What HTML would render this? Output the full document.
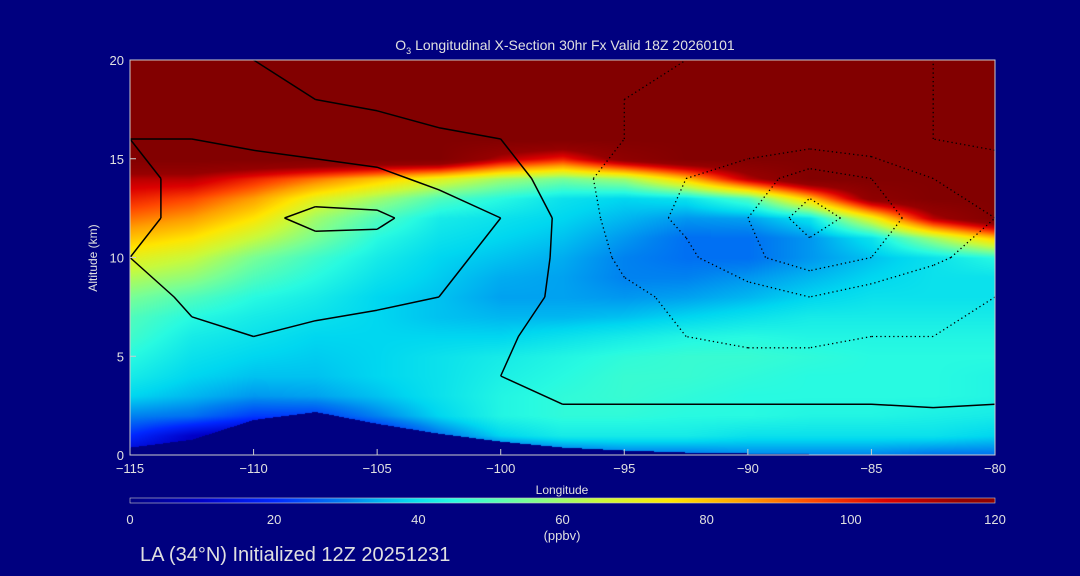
<!DOCTYPE html>
<html><head><meta charset="utf-8">
<style>
body{margin:0;background:#00007f;width:1080px;height:576px;overflow:hidden;position:relative;font-family:"Liberation Sans",sans-serif;color:#ddd}
#field{position:absolute;left:130px;top:60px}
#ov{position:absolute;left:0;top:0}
text{fill:#e0e0e0;font-family:"Liberation Sans",sans-serif}
</style></head><body>
<canvas id="field" width="865" height="395"></canvas>
<svg id="ov" width="1080" height="576"></svg>
<script>
const lons=[-115,-112.5,-110,-107.5,-105,-102.5,-100,-97.5,-95,-92.5,-90,-87.5,-85,-82.5,-80];
const alts=[0,1,2,3,4,5,6,7,8,9,10,11,12,13,14,15,16,17,18,19,20];
const ozone=[
[10,5,3,3,5,10,20,25,28,28,30,30,30,28,28],
[20,10,5,5,15,28,38,42,42,42,40,40,40,40,38],
[30,28,22,22,30,38,44,46,46,45,45,44,44,43,42],
[38,35,32,33,36,40,44,46,47,46,45,45,45,45,44],
[42,38,36,36,38,40,43,45,47,47,46,45,45,45,44],
[45,40,38,37,38,40,42,44,46,47,47,46,45,45,45],
[48,42,40,38,38,38,38,40,42,44,45,44,44,44,44],
[50,45,42,40,38,36,35,35,36,38,40,42,42,42,42],
[55,50,45,42,38,36,33,33,32,33,35,38,40,40,40],
[62,58,50,45,40,37,34,33,30,30,32,35,38,40,40],
[70,65,55,48,42,38,36,34,30,28,28,32,36,40,45],
[80,75,65,55,45,40,38,36,32,28,28,32,40,60,80],
[90,85,75,60,50,42,40,38,35,32,33,40,70,110,130],
[100,95,85,70,60,50,45,40,38,40,50,80,120,130,130],
[110,110,100,90,80,70,60,55,60,80,110,130,130,130,130],
[130,130,130,130,130,130,110,100,120,130,130,130,130,130,130],
[130,130,130,130,130,130,130,130,130,130,130,130,130,130,130],
[130,130,130,130,130,130,130,130,130,130,130,130,130,130,130],
[130,130,130,130,130,130,130,130,130,130,130,130,130,130,130],
[130,130,130,130,130,130,130,130,130,130,130,130,130,130,130],
[130,130,130,130,130,130,130,130,130,130,130,130,130,130,130]];
const terrain=[0.4,0.8,1.8,2.2,1.6,1.1,0.7,0.4,0.25,0.15,0.1,0.05,0.05,0.05,0.05];
const diffAlts=[0,2,4,6,8,10,12,14,16,18,20];
const diff=[
[2,2,2,2,2,2,2,3,3,3,3,3,3,3,3],
[5,5,5,2,2,2,2,2,2,2,2,2,2,2,2],
[2,5,5,4,4,2,0,-5,-5,-5,-5,-5,-5,-8,-5],
[2,8,10,8,6,5,2,-5,-8,-10,-12,-12,-10,-10,-8],
[5,12,14,13,12,10,5,-2,-8,-12,-15,-20,-15,-12,-10],
[10,12,15,16,15,12,8,-2,-12,-18,-28,-35,-30,-22,-15],
[8,12,18,22,22,15,10,-2,-15,-22,-30,-45,-35,-25,-20],
[8,12,15,15,12,8,5,-5,-15,-20,-25,-35,-30,-20,-15],
[10,10,8,5,5,2,0,-5,-10,-15,-15,-15,-12,-10,-8],
[8,5,5,0,-2,-5,-5,-8,-10,-12,-12,-12,-12,-10,-8],
[5,5,0,-5,-5,-5,-5,-8,-10,-10,-12,-12,-12,-10,-8]];
const levels=[-40,-30,-20,-10,0,10,20];
const xTicks=[-115,-110,-105,-100,-95,-90,-85,-80];
const yTicks=[0,5,10,15,20];
const cbTicks=[0,20,40,60,80,100,120];

const X0=130,X1=995,Y0=455,Y1=60;
const xs=v=>X0+(v-(-115))/35*(X1-X0);
const ys=v=>Y0-(v/20)*(Y0-Y1);
const stops=[[0,[0,0,130]],[10,[0,0,200]],[20,[0,40,255]],[30,[0,130,240]],[38,[0,215,240]],[45,[40,250,225]],[55,[120,255,150]],[65,[200,250,60]],[75,[255,230,0]],[85,[255,160,0]],[95,[255,70,0]],[105,[220,0,0]],[115,[150,0,0]],[130,[130,0,0]]];
function cmap(v){v=Math.max(0,Math.min(130,v));for(let i=1;i<stops.length;i++){if(v<=stops[i][0]){const a=stops[i-1],b=stops[i],t=(v-a[0])/(b[0]-a[0]);return a[1].map((c,k)=>Math.round(c+(b[1][k]-c)*t));}}return stops[stops.length-1][1];}
function interp(grid,ax,lon,alt){
 let fi=(lon+115)/2.5;fi=Math.max(0,Math.min(lons.length-1.0001,fi));
 const step=ax[1]-ax[0];let fj=alt/step;fj=Math.max(0,Math.min(ax.length-1.0001,fj));
 const i=Math.floor(fi),j=Math.floor(fj),u=fi-i,w=fj-j;
 return grid[j][i]*(1-u)*(1-w)+grid[j][i+1]*u*(1-w)+grid[j+1][i]*(1-u)*w+grid[j+1][i+1]*u*w;}
const cv=document.getElementById('field'),ctx=cv.getContext('2d');
const W=865,H=395,img=ctx.createImageData(W,H);
for(let py=0;py<H;py++){const alt=(H-py)/H*20;for(let px=0;px<W;px++){const lon=-115+px/W*35;
 let fi=(lon+115)/2.5;const i=Math.min(13,Math.floor(fi)),u=fi-i;const ter=terrain[i]*(1-u)+terrain[i+1]*u;
 const c=alt<ter?[0,0,130]:cmap(interp(ozone,alts,lon,alt));const k=(py*W+px)*4;img.data[k]=c[0];img.data[k+1]=c[1];img.data[k+2]=c[2];img.data[k+3]=255;}}
ctx.putImageData(img,0,0);
const svg=document.getElementById('ov'),NS='http://www.w3.org/2000/svg';
function mk(t,a,p){const e=document.createElementNS(NS,t);for(const k in a)e.setAttribute(k,a[k]);(p||svg).appendChild(e);return e;}
const cg=mk('g',{});


levels.forEach(L=>{let d='';
 for(let j=0;j<diffAlts.length-1;j++)for(let i=0;i<lons.length-1;i++){
  const c=[[lons[i],diffAlts[j],diff[j][i]],[lons[i+1],diffAlts[j],diff[j][i+1]],[lons[i+1],diffAlts[j+1],diff[j+1][i+1]],[lons[i],diffAlts[j+1],diff[j+1][i]]];
  const pts=[];for(let e=0;e<4;e++){const a=c[e],b=c[(e+1)%4];if((a[2]<L)!==(b[2]<L)){const t=(L-a[2])/(b[2]-a[2]);pts.push([xs(a[0]+(b[0]-a[0])*t),ys(a[1]+(b[1]-a[1])*t)]);}}
  for(let p=0;p+1<pts.length;p+=2)d+=`M${pts[p][0].toFixed(1)},${pts[p][1].toFixed(1)}L${pts[p+1][0].toFixed(1)},${pts[p+1][1].toFixed(1)}`;}
 const path=mk('path',{d:d,fill:'none',stroke:'#000','stroke-width':L<0?1.3:1.5,'stroke-dasharray':L<0?'1.3,3':'none'},cg);
 
 
});
const fr=mk('rect',{x:X0,y:Y1,width:X1-X0,height:Y0-Y1,fill:'none',stroke:'#ccc','stroke-width':1});


const title=mk('text',{x:565,y:50,'text-anchor':'middle','font-size':14});


title.innerHTML='O<tspan font-size="9" dy="4">3</tspan><tspan dy="-4"> Longitudinal X-Section 30hr  Fx Valid 18Z 20260101</tspan>';
xTicks.forEach(v=>{const t=mk('text',{x:xs(v),y:473,'text-anchor':'middle','font-size':13});t.textContent=String(v).replace('-','\u2212');
 
 
 mk('line',{x1:xs(v),x2:xs(v),y1:Y0,y2:Y0-6,stroke:'#ccc'});});
yTicks.forEach(v=>{const t=mk('text',{x:124,y:ys(v)+5,'text-anchor':'end','font-size':13});t.textContent=v;
 
 
 mk('line',{x1:X0,x2:X0+6,y1:ys(v),y2:ys(v),stroke:'#ccc'});});
const xt=mk('text',{x:562,y:494,'text-anchor':'middle','font-size':12});xt.textContent='Longitude';


const yt=mk('text',{x:97,y:258,'text-anchor':'middle','font-size':12,transform:'rotate(-90 97 258)'});yt.textContent='Altitude (km)';


const defs=mk('defs',{}),gr=mk('linearGradient',{id:'cb'},defs);
for(let v=0;v<=120;v+=5){const c=cmap(v);mk('stop',{offset:(v/120*100)+'%','stop-color':`rgb(${c})`},gr);}
const cb=mk('rect',{x:X0,y:498,width:X1-X0,height:5,fill:'url(#cb)',stroke:'#ccc','stroke-width':0.6});


cbTicks.forEach(v=>{const t=mk('text',{x:X0+v/120*(X1-X0),y:524,'text-anchor':'middle','font-size':13});t.textContent=v;
 
 });
const un=mk('text',{x:562,y:540,'text-anchor':'middle','font-size':13});un.textContent='(ppbv)';


const ft=mk('text',{x:140,y:561,'font-size':20});ft.textContent='LA (34°N) Initialized 12Z 20251231';


</script>
</body></html>
